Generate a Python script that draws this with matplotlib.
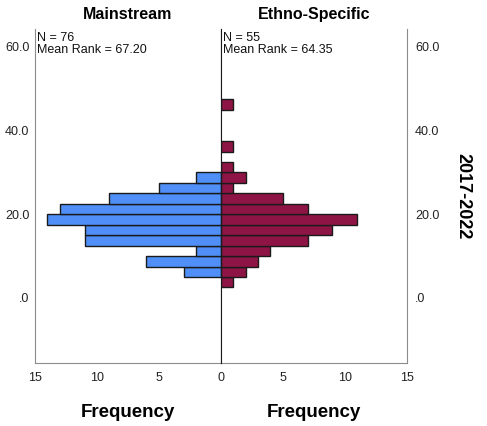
import matplotlib.pyplot as plt
from matplotlib.ticker import FixedLocator

plt.rcParams['font.family'] = ['Liberation Sans', 'DejaVu Sans']

# histogram bins (lower edges), width 2.5
bin_lower = [2.5, 5.0, 7.5, 10.0, 12.5, 15.0, 17.5, 20.0, 22.5, 25.0,
             27.5, 30.0, 32.5, 35.0, 37.5, 40.0, 42.5, 45.0]
bin_width = 2.5
mainstream = [0, 3, 6, 2, 11, 11, 14, 13, 9, 5, 2, 0, 0, 0, 0, 0, 0, 0]
ethno = [1, 2, 3, 4, 7, 9, 11, 7, 5, 1, 2, 1, 0, 1, 0, 0, 0, 1]

groups = ['Mainstream', 'Ethno-Specific']
n_text = ['N = 76\nMean Rank = 67.20', 'N = 55\nMean Rank = 64.35']
y_ticks = [0, 20, 40, 60]
y_labels = ['.0', '20.0', '40.0', '60.0']
row_label = '2017-2022'

blue = '#4f8ff7'
maroon = '#8f1446'
frame = '#8c8c8c'

fig = plt.figure(figsize=(4.87, 4.26), dpi=100)
axL = fig.add_axes([35 / 487, 63.3 / 426, 185.7 / 487, 333.7 / 426])
axR = fig.add_axes([220.7 / 487, 63.3 / 426, 186 / 487, 333.7 / 426])

# skip empty bins so no zero-width outlines are drawn
for ax, counts, col in ((axL, mainstream, blue), (axR, ethno, maroon)):
    ys = [b + bin_width / 2 for b, c in zip(bin_lower, counts) if c > 0]
    ws = [c for c in counts if c > 0]
    ax.barh(ys, ws, height=bin_width, color=col,
            edgecolor='#1a1a1a', linewidth=1)

for ax in (axL, axR):
    ax.set_ylim(-15.5, 64.3)
    ax.set_xlim(0, 15)
    ax.spines['top'].set_visible(False)
    ax.tick_params(length=0, labelsize=9, colors='#222222')
    ax.yaxis.set_major_locator(FixedLocator(y_ticks))
    ax.set_yticklabels(y_labels)
    ax.set_xlabel('Frequency', fontsize=13.5, fontweight='bold', labelpad=14)

axL.invert_xaxis()
axL.set_xticks([15, 10, 5, 0])
axL.set_xticklabels(['15', '10', '5', '0'])
axR.set_xticks([5, 10, 15])
axR.set_xticklabels(['5', '10', '15'])

axL.spines['left'].set_color(frame)
axL.spines['bottom'].set_color(frame)
axL.spines['right'].set_color('#1a1a1a')
axR.spines['right'].set_color(frame)
axR.spines['bottom'].set_color(frame)
axR.spines['left'].set_color('#1a1a1a')
axL.spines['right'].set_zorder(5)
axR.spines['left'].set_zorder(5)

axR.yaxis.tick_right()
axR.tick_params(axis='y', pad=6)
axL.tick_params(axis='y', pad=4)
axL.tick_params(axis='x', pad=7)
axR.tick_params(axis='x', pad=7)

for ax, g, t in zip((axL, axR), groups, n_text):
    ax.set_title(g, fontsize=11.5, fontweight='bold', pad=7)
    ax.text(0.01, 0.99, t, transform=ax.transAxes, ha='left', va='top',
            fontsize=9, linespacing=0.95, color='#111111')

fig.text(463 / 487, 1 - 196.5 / 426, row_label, rotation=-90, ha='center',
         va='center', fontsize=13, fontweight='bold')

fig.savefig('out.png', dpi=100)
